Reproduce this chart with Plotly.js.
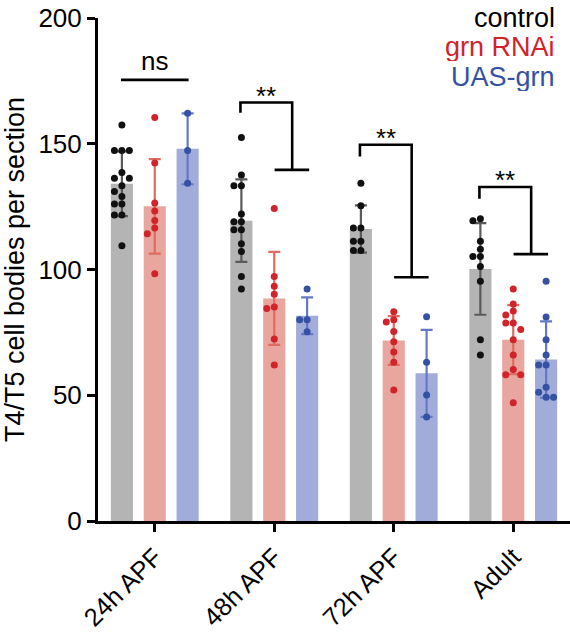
<!DOCTYPE html>
<html><head><meta charset="utf-8">
<script src="https://cdn.plot.ly/plotly-3.0.1.min.js"></script>
<style>html,body{margin:0;padding:0;background:#fff}#chart{width:570px;height:635px}</style>
</head><body><div id="chart"></div>
<script>
// ---- data ----
const categories = ['24h APF', '48h APF', '72h APF', 'Adult'];
const groupNames = ['control', 'grn RNAi', 'UAS-grn'];
const controlMean = [134.1, 119.4, 116.1, 100.2];
const controlSD   = [12.9, 16.4, 9.4, 18.2];
const rnaiMean    = [125.1, 88.5, 71.8, 72.1];
const rnaiSD      = [18.8, 18.5, 9.7, 13.7];
const uasMean     = [148.0, 81.6, 58.7, 64.2];
const uasSD       = [14.1, 7.3, 17.3, 15.2];
const controlPoints = [
  [157.5, 147.3, 147.3, 147.3, 138.6, 136.3, 136.3, 133.3, 131.0, 129.0, 126.0, 126.0, 121.7, 121.7, 109.4],
  [152.5, 137.6, 133.3, 133.3, 122.1, 119.0, 119.0, 115.8, 115.8, 110.2, 107.2, 97.2, 92.2],
  [134.3, 125.3, 116.5, 116.5, 111.2, 111.2, 107.6, 107.6],
  [120.2, 119.4, 111.2, 108.1, 105.2, 105.2, 101.2, 95.3, 72.1, 66.0]
];
const rnaiPoints = [
  [160.4, 142.3, 126.4, 123.3, 119.5, 116.5, 114.2, 98.3],
  [124.3, 97.2, 93.3, 90.2, 85.1, 84.5, 72.4, 62.0],
  [83.2, 80.0, 79.1, 75.3, 71.3, 67.2, 63.1, 52.1],
  [92.2, 86.3, 83.5, 81.9, 78.7, 78.7, 76.1, 72.1, 66.0, 60.2, 58.2, 58.2, 47.0]
];
const uasPoints = [
  [162.1, 147.3, 134.3],
  [92.2, 80.0, 80.0, 75.2],
  [81.2, 63.1, 50.1, 41.4],
  [95.3, 81.1, 72.1, 66.0, 62.0, 62.0, 53.2, 51.2, 49.2, 49.2]
];
const yTickVals = [0, 50, 100, 150, 200];
const sigLabels = ['ns', '**', '**', '**'];
const sigTop    = [175.4, 166.4, 149.6, 132.8];  // bracket top level
const sigLeg    = [null, 162.3, 144.9, 128.1];   // left leg bottom
const sigCross  = [null, 139.6, 96.9, 106.1];    // cross-bar level

// ---- styling ----
const FONT = 'Liberation Sans, Arial, Helvetica, sans-serif';
const barColors = ['#b4b4b4', '#e9a69e', '#a1acdb'];
const errColors = ['#5a5a5a', '#df6b63', '#6479c6'];
const dotColors = ['#111111', '#d2232a', '#3451a4'];
const legendColors = ['#000000', '#d2232a', '#3451a4'];
const offsets = [-0.275, 0, 0.275];
const PX_X = 120, PX_Y = 503 / 200;

function swarm(vals, center) {
  const placed = [], xs = [];
  vals.forEach(v => {
    for (const c of [0, -1, 1, -2, 2, -3, 3]) {
      const dx = c * 7.5;
      if (placed.every(p => Math.hypot(p.dx - dx, (p.v - v) * PX_Y) >= 7)) {
        placed.push({dx, v}); xs.push(center + dx / PX_X); break;
      }
    }
  });
  return xs;
}

const means = [controlMean, rnaiMean, uasMean];
const sds = [controlSD, rnaiSD, uasSD];
const pts = [controlPoints, rnaiPoints, uasPoints];
const traces = [];
means.forEach((m, g) => {
  traces.push({
    type: 'bar', name: groupNames[g],
    x: categories.map((c, i) => i + offsets[g]), y: m, width: 0.185,
    marker: {color: barColors[g], line: {width: 0}},
    error_y: {type: 'data', array: sds[g], visible: true, color: errColors[g], thickness: 2.2, width: 6},
    hoverinfo: 'y'
  });
});
pts.forEach((arr, g) => {
  const xs = [], ys = [];
  arr.forEach((vals, i) => { xs.push(...swarm(vals, i + offsets[g])); ys.push(...vals); });
  traces.push({type: 'scatter', mode: 'markers', x: xs, y: ys, name: groupNames[g],
    marker: {color: dotColors[g], size: 7}, cliponaxis: false, hoverinfo: 'y'});
});

const shapes = [], annotations = [];
const line = {color: '#000', width: 2.6};
categories.forEach((c, i) => {
  if (sigLeg[i] === null) {
    shapes.push({type: 'line', xref: 'x', yref: 'y', x0: i - 0.283, x1: i + 0.283, y0: sigTop[i], y1: sigTop[i], line});
    annotations.push({xref: 'x', yref: 'y', x: i, y: sigTop[i], text: sigLabels[i], showarrow: false,
      yanchor: 'middle', yshift: 19, font: {size: 26, color: '#000', family: FONT}});
  } else {
    const xl = i - 0.283, xr = i + 0.15;
    shapes.push({type: 'path', xref: 'x', yref: 'y',
      path: `M${xl},${sigLeg[i]} L${xl},${sigTop[i]} L${xr},${sigTop[i]} L${xr},${sigCross[i]}`, line});
    shapes.push({type: 'line', xref: 'x', yref: 'y', x0: i + 0.003, x1: i + 0.292, y0: sigCross[i], y1: sigCross[i], line});
    annotations.push({xref: 'x', yref: 'y', x: (xl + xr) / 2, y: sigTop[i], text: sigLabels[i], showarrow: false,
      yanchor: 'middle', yshift: 7, font: {size: 26, color: '#000', family: FONT}});
  }
});
const legendY = [1.0, 0.943, 0.882];
groupNames.forEach((n, g) => {
  annotations.push({xref: 'paper', yref: 'paper', x: 0.9725, y: legendY[g], xanchor: 'right', yanchor: 'middle',
    height: 28, valign: 'middle',
    text: n, showarrow: false, font: {size: 27, color: legendColors[g], family: FONT}});
});

const axisCommon = {showline: true, linewidth: 3, linecolor: '#000', ticks: 'outside', ticklen: 8, tickwidth: 3,
  tickcolor: '#000', showgrid: false, zeroline: false};
const layout = {
  width: 570, height: 635, margin: {l: 98, r: 0, t: 18, b: 114, pad: 0},
  paper_bgcolor: '#fff', plot_bgcolor: '#fff', showlegend: false,
  font: {family: FONT, color: '#000'},
  xaxis: Object.assign({}, axisCommon, {range: [-0.475, 3.475], tickmode: 'array', tickvals: categories.map((c, i) => i),
    ticktext: categories, tickangle: -45, tickfont: {size: 25.5, color: '#000', family: FONT}}),
  yaxis: Object.assign({}, axisCommon, {range: [0, 200], tickmode: 'array', tickvals: yTickVals,
    tickfont: {size: 26, color: '#000', family: FONT},
    title: {text: 'T4/T5 cell bodies per section', font: {size: 27, color: '#000', family: FONT}, standoff: 10}}),
  shapes, annotations
};
Plotly.newPlot('chart', traces, layout, {displayModeBar: false, staticPlot: true});
</script></body></html>
